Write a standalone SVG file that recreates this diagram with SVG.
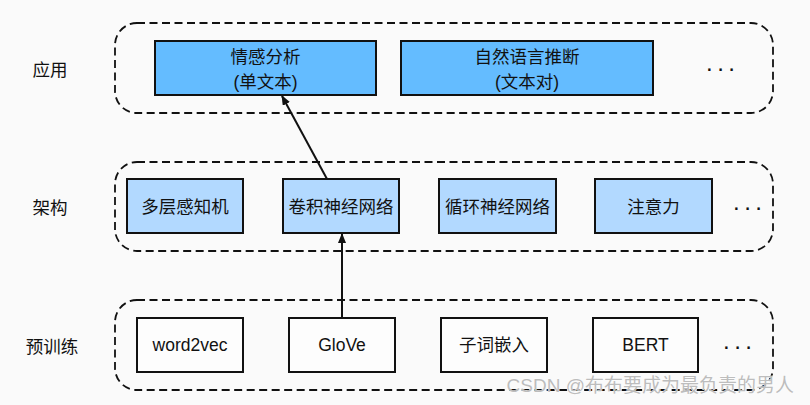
<svg xmlns="http://www.w3.org/2000/svg" width="810" height="405" viewBox="0 0 810 405">
<defs>
<style>
.bg{fill:#fafafa}
.group{fill:none;stroke:#111;stroke-width:1.8;stroke-dasharray:8 4.5}
.box{stroke:#111;stroke-width:2}
.app{fill:#64bcff}
.arch{fill:#b2d9ff}
.pre{fill:#fdfdfd}
text{font-family:"Liberation Sans","Noto Sans CJK SC",sans-serif;font-size:17.5px;fill:#111;text-anchor:middle;dominant-baseline:central}
.dots{font-size:24px;letter-spacing:4.5px;text-anchor:start}
.wm{font-size:19px;fill:#bdbdbd;text-anchor:end;stroke:#ffffff;stroke-width:0.6;paint-order:stroke}
.edge{stroke:#111;stroke-width:2;fill:none;marker-end:url(#arrow)}
</style>
<marker id="arrow" markerWidth="10" markerHeight="8" refX="9" refY="4" orient="auto" markerUnits="userSpaceOnUse">
<path d="M0,0 L10,4 L0,8 Z" fill="#111"/>
</marker>
</defs>
<rect class="bg" x="0" y="0" width="810" height="405"/>

<g id="layer-labels">
<text x="50" y="70">应用</text>
<text x="50" y="208">架构</text>
<text x="52" y="347">预训练</text>
</g>

<g id="containers">
<rect class="group" x="115" y="23" width="658" height="90" rx="22"/>
<rect class="group" x="115" y="162" width="658" height="89" rx="22"/>
<rect class="group" x="115" y="300" width="658" height="90" rx="22"/>
</g>

<g id="node-sentiment">
<rect class="box app" x="155" y="41" width="221" height="54"/>
<text x="265.5" y="57">情感分析</text>
<text x="265.5" y="82">(单文本)</text>
</g>
<g id="node-nli">
<rect class="box app" x="401" y="41" width="252" height="54"/>
<text x="527" y="57">自然语言推断</text>
<text x="527" y="82">(文本对)</text>
</g>
<g id="dots-app"><text class="dots" x="706" y="62">...</text></g>

<g id="node-mlp">
<rect class="box arch" x="127" y="179" width="116" height="54"/>
<text x="185" y="207">多层感知机</text>
</g>
<g id="node-cnn">
<rect class="box arch" x="283" y="179" width="116" height="54"/>
<text x="341" y="207">卷积神经网络</text>
</g>
<g id="node-rnn">
<rect class="box arch" x="439" y="179" width="117" height="54"/>
<text x="497.5" y="207">循环神经网络</text>
</g>
<g id="node-attn">
<rect class="box arch" x="595" y="179" width="117" height="54"/>
<text x="653.5" y="207">注意力</text>
</g>
<g id="dots-arch"><text class="dots" x="733" y="201">...</text></g>

<g id="node-word2vec">
<rect class="box pre" x="137" y="318" width="106" height="54"/>
<text x="190" y="345">word2vec</text>
</g>
<g id="node-glove">
<rect class="box pre" x="289" y="318" width="106" height="54"/>
<text x="342" y="345">GloVe</text>
</g>
<g id="node-subword">
<rect class="box pre" x="441" y="318" width="106" height="54"/>
<text x="494" y="345">子词嵌入</text>
</g>
<g id="node-bert">
<rect class="box pre" x="593" y="318" width="105" height="54"/>
<text x="645.5" y="345">BERT</text>
</g>
<g id="dots-pre"><text class="dots" x="723" y="340">...</text></g>

<g id="connectors">
<line class="edge" x1="342" y1="318" x2="342" y2="234"/>
<line class="edge" x1="327" y1="179" x2="282" y2="96"/>
</g>

<text class="wm" x="794" y="385">CSDN @布布要成为最负责的男人</text>
</svg>
